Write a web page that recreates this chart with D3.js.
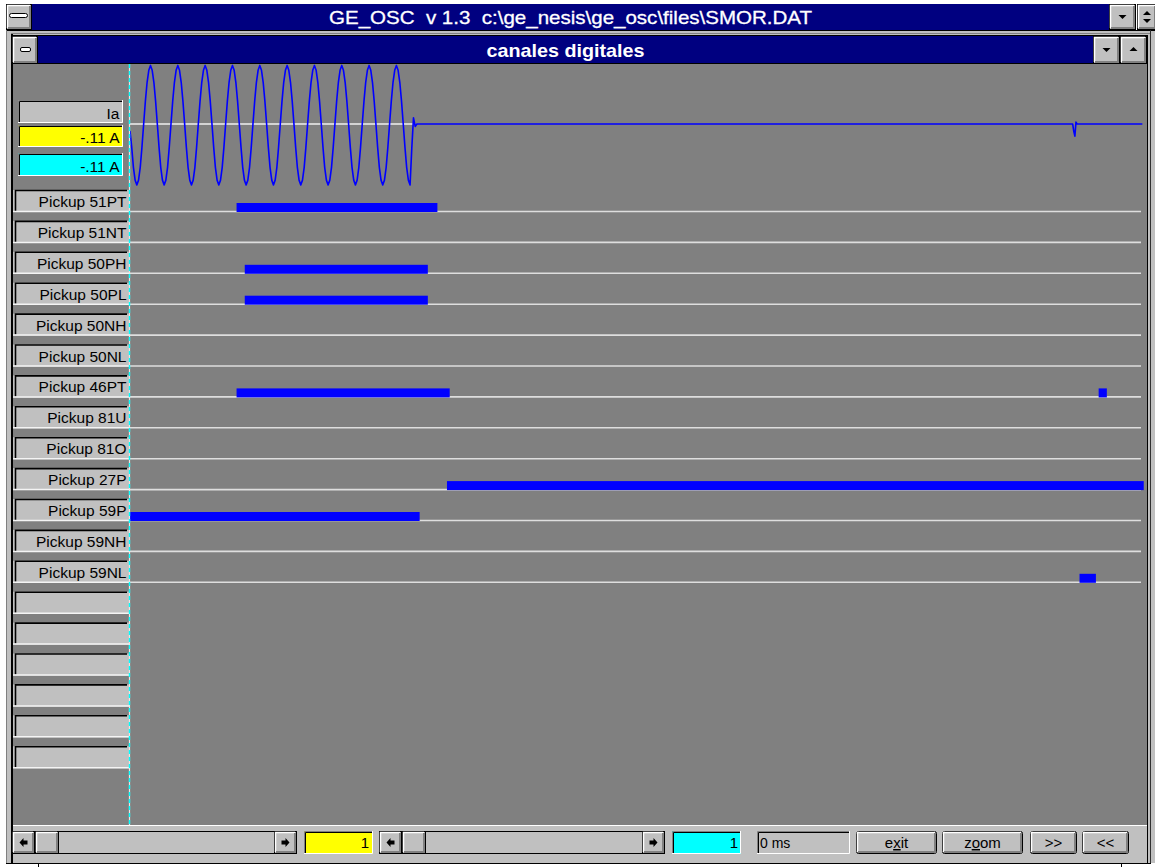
<!DOCTYPE html>
<html>
<head>
<meta charset="utf-8">
<script src="https://cdn.jsdelivr.net/npm/d3@7"></script>
<style>
  body { margin: 0; background: #ffffff; overflow: hidden; }
  svg { display: block; }
  text { font-family: Arial, "Liberation Sans", sans-serif; }
</style>
</head>
<body>
<svg id="scope" width="1155" height="867"></svg>
<script>
// ---- recorded data ----------------------------------------------------
const windowTitle = "GE_OSC  v 1.3  c:\\ge_nesis\\ge_osc\\files\\SMOR.DAT";
const viewTitle = "canales digitales";

// Ia phase current, one sample every 1.25 ms (16 samples per cycle)
const sampleStep = 1.25;
const iaSamples = [
  -0.11, -0.38, -0.71, -0.92, -1.00, -0.92, -0.71, -0.38, 0.00, 0.37, 0.68, 0.88, 0.96, 0.88, 0.68, 0.37,
   0.00, -0.38, -0.71, -0.92, -1.00, -0.92, -0.71, -0.38, 0.00, 0.37, 0.68, 0.88, 0.96, 0.88, 0.68, 0.37,
   0.00, -0.38, -0.71, -0.92, -1.00, -0.92, -0.71, -0.38, 0.00, 0.37, 0.68, 0.88, 0.96, 0.88, 0.68, 0.37,
   0.00, -0.38, -0.71, -0.92, -1.00, -0.92, -0.71, -0.38, 0.00, 0.37, 0.68, 0.88, 0.96, 0.88, 0.68, 0.37,
   0.00, -0.38, -0.71, -0.92, -1.00, -0.92, -0.71, -0.38, 0.00, 0.37, 0.68, 0.88, 0.96, 0.88, 0.68, 0.37,
   0.00, -0.38, -0.71, -0.92, -1.00, -0.92, -0.71, -0.38, 0.00, 0.37, 0.68, 0.88, 0.96, 0.88, 0.68, 0.37,
   0.00, -0.38, -0.71, -0.92, -1.00, -0.92, -0.71, -0.38, 0.00, 0.37, 0.68, 0.88, 0.96, 0.88, 0.68, 0.37,
   0.00, -0.38, -0.71, -0.92, -1.00, -0.92, -0.71, -0.38, 0.00, 0.37, 0.68, 0.88, 0.96, 0.88, 0.68, 0.37,
   0.00, -0.38, -0.71, -0.92, -1.00, -0.92, -0.71, -0.38, 0.00, 0.37, 0.68, 0.88, 0.96, 0.88, 0.68, 0.37,
   0.00, -0.38, -0.71, -0.92, -1.00, -0.92, -0.71, -0.38, 0.00, 0.37, 0.68, 0.88, 0.96, 0.88, 0.68, 0.37,
   0.00, -0.38, -0.71, -0.92, -1.00, -0.40, 0.10, -0.04, 0.00
];
// after the breaker opens: [time ms, current]
const iaTail = [[690, 0], [690.8, -0.12], [691.6, -0.2], [692.4, 0.03], [693.2, 0], [741, 0]];

const timeSpan = [0, 740];           // ms shown in the window
const cursorTime = 0;                 // both cursors at the first sample
const cursorIndex = [1, 1];           // yellow / cyan cursor sample numbers

// digital channels and the intervals (ms) during which each one is picked up
const channelNames = [
  "Pickup 51PT", "Pickup 51NT", "Pickup 50PH", "Pickup 50PL", "Pickup 50NH", "Pickup 50NL",
  "Pickup 46PT", "Pickup 81U", "Pickup 81O", "Pickup 27P", "Pickup 59P", "Pickup 59NH", "Pickup 59NL"
];
const channelOn = [
  [[78, 225]],
  [],
  [[84, 218]],
  [[84, 218]],
  [],
  [],
  [[78, 234], [709, 715]],
  [],
  [],
  [[232, 742]],
  [[0, 212]],
  [],
  [[695, 707]]
];
const emptySlots = 6;
const bottomButtons = ["exit", "zoom", ">>", "<<"];

// ---- drawing ------------------------------------------------------------
const svg = d3.select("#scope");
const C = { face: "#c0c0c0", shadow: "#808080", navy: "#000080", plot: "#808080",
            trace: "#0000ff", base: "#dedede", yellow: "#ffff00", cyan: "#00ffff" };

const fmtAmp = v => d3.format(".2f")(v).replace("\u2212", "-").replace(/^(-?)0\./, "$1.") + " A";

function raised(g, x, y, w, h, rx = 0) {
  g.append("rect").attr("x", x + 0.5).attr("y", y + 0.5).attr("width", w - 1).attr("height", h - 1)
    .attr("rx", rx).attr("fill", C.face).attr("stroke", "#000");
  g.append("path").attr("d", `M${x + 1.5},${y + h - 2}V${y + 1.5}H${x + w - 2}`)
    .attr("fill", "none").attr("stroke", "#fff").attr("stroke-width", 1.5);
  g.append("path").attr("d", `M${x + 2},${y + h - 2}H${x + w - 2}V${y + 2}`)
    .attr("fill", "none").attr("stroke", C.shadow).attr("stroke-width", 2);
}
function sunken(g, x, y, w, h, fill) {
  g.append("rect").attr("x", x).attr("y", y).attr("width", w).attr("height", h).attr("fill", fill);
  g.append("path").attr("d", `M${x + 0.5},${y + h}V${y + 0.5}H${x + w}`)
    .attr("fill", "none").attr("stroke", C.shadow).attr("stroke-width", 1);
  g.append("path").attr("d", `M${x + 1.5},${y + h - 1}V${y + 1.5}H${x + w - 1}`)
    .attr("fill", "none").attr("stroke", "#000").attr("stroke-width", 1);
  g.append("path").attr("d", `M${x},${y + h - 0.5}H${x + w - 0.5}V${y}`)
    .attr("fill", "none").attr("stroke", "#fff").attr("stroke-width", 1);
}
function arrow(g, cx, cy, dir) {
  const s = dir === "left" ? -1 : 1;
  g.append("path")
    .attr("d", `M${cx + 4 * s},${cy}L${cx},${cy - 4.5}V${cy - 2}H${cx - 4 * s}V${cy + 2}H${cx}V${cy + 4.5}Z`)
    .attr("fill", "#000");
}
function tri(g, cx, cy, up) {
  const d = up ? `M${cx - 4},${cy + 2}L${cx + 4},${cy + 2}L${cx},${cy - 2}Z`
               : `M${cx - 4},${cy - 2}L${cx + 4},${cy - 2}L${cx},${cy + 2}Z`;
  g.append("path").attr("d", d).attr("fill", "#000");
}

// window frame
const frame = svg.append("g");
frame.append("rect").attr("x", 6).attr("y", 30).attr("width", 1149).attr("height", 833).attr("fill", C.face);
frame.append("rect").attr("x", 32).attr("y", 4).attr("width", 1077).attr("height", 26).attr("fill", C.navy);
frame.append("line").attr("x1", 6).attr("x2", 1155).attr("y1", 30.5).attr("y2", 30.5).attr("stroke", "#000");
frame.append("line").attr("x1", 11).attr("x2", 1150).attr("y1", 33.5).attr("y2", 33.5).attr("stroke", C.shadow);
frame.append("line").attr("x1", 6.5).attr("x2", 6.5).attr("y1", 30).attr("y2", 863).attr("stroke", C.shadow);

// outer title buttons
raised(frame, 6, 4, 26, 26);
frame.append("rect").attr("x", 9.5).attr("y", 13.5).attr("width", 18).attr("height", 4).attr("rx", 2)
  .attr("fill", "#fff").attr("stroke", "#000");
raised(frame, 1109, 4, 27, 26); tri(frame, 1122.5, 17, false);
raised(frame, 1137, 4, 20, 26); tri(frame, 1147, 13, true); tri(frame, 1147, 21, false);

frame.append("text").attr("x", 329).attr("y", 24).attr("font-size", 19).attr("fill", "#fff")
  .attr("stroke", "#fff").attr("stroke-width", 0.3)
  .attr("textLength", 483).attr("lengthAdjust", "spacingAndGlyphs").style("white-space", "pre")
  .text(windowTitle);

// inner window
frame.append("rect").attr("x", 11).attr("y", 34).attr("width", 2).attr("height", 829).attr("fill", "#000");
frame.append("rect").attr("x", 38).attr("y", 36).attr("width", 1055).attr("height", 27).attr("fill", C.navy);
frame.append("line").attr("x1", 11).attr("x2", 1148).attr("y1", 35.5).attr("y2", 35.5).attr("stroke", "#000");
frame.append("line").attr("x1", 11).attr("x2", 1148).attr("y1", 63.5).attr("y2", 63.5).attr("stroke", "#000");
raised(frame, 12, 36, 26, 28);
frame.append("rect").attr("x", 20.5).attr("y", 47.5).attr("width", 10).attr("height", 4).attr("rx", 1.5)
  .attr("fill", "#fff").attr("stroke", "#000");
raised(frame, 1093, 36, 27, 28); tri(frame, 1106.5, 50, false);
raised(frame, 1120, 36, 27, 28); tri(frame, 1133.5, 49, true);
frame.append("text").attr("x", 565.5).attr("y", 57).attr("font-size", 19).attr("font-weight", "bold")
  .attr("fill", "#fff").attr("text-anchor", "middle").attr("textLength", 158)
  .attr("lengthAdjust", "spacingAndGlyphs").text(viewTitle);

// right frame lines
frame.append("line").attr("x1", 1147.5).attr("x2", 1147.5).attr("y1", 36).attr("y2", 863).attr("stroke", "#000");
frame.append("line").attr("x1", 1150.5).attr("x2", 1150.5).attr("y1", 30).attr("y2", 863).attr("stroke", "#303030");

// plotting area
const plot = svg.append("g");
plot.append("rect").attr("x", 13).attr("y", 64).attr("width", 1134).attr("height", 761).attr("fill", C.plot);

const x = d3.scaleLinear().domain(timeSpan).range([130, 1141]);
const rowY = d3.scaleLinear().domain([0, 18]).range([212, 768.2]);   // baseline of each row
const iaY = d3.scaleLinear().domain([-1, 1]).range([185, 63]);

// analog header boxes
const iaVal = iaSamples[Math.round(cursorTime / sampleStep)];
const hdr = [{ y: 100, h: 23, fill: C.face, label: "Ia" },
             { y: 125, h: 22, fill: C.yellow, label: fmtAmp(iaVal) },
             { y: 153, h: 23, fill: C.cyan, label: fmtAmp(iaVal) }];
hdr.forEach(b => {
  sunken(plot, 18, b.y, 105, b.h, b.fill);
  plot.append("text").attr("x", 119.5).attr("y", b.y + b.h - 4).attr("text-anchor", "end")
    .attr("font-size", 15.5).attr("fill", "#000").text(b.label);
});

// digital channel rows
const rows = d3.range(channelNames.length + emptySlots);
rows.forEach(i => {
  const b = rowY(i);
  const g = plot.append("g");
  g.append("rect").attr("x", 13).attr("y", b - 22).attr("width", 116).attr("height", 22).attr("fill", C.face);
  g.append("path").attr("d", `M15.5,${b - 1}V${b - 21.5}H127`).attr("fill", "none")
    .attr("stroke", "#000").attr("stroke-width", 1.6);
  g.append("line").attr("x1", 13).attr("x2", 129).attr("y1", b - 0.5).attr("y2", b - 0.5)
    .attr("stroke", "#f4f4f4").attr("stroke-width", 1.5);
  if (i < channelNames.length) {
    g.append("text").attr("x", 126.5).attr("y", b - 5).attr("text-anchor", "end")
      .attr("font-size", 15.5).attr("fill", "#000").text(channelNames[i]);
    g.append("line").attr("x1", x(timeSpan[0])).attr("x2", x(timeSpan[1])).attr("y1", b - 0.5).attr("y2", b - 0.5)
      .attr("stroke", C.base).attr("stroke-width", 1.6);
  }
});

// picked-up intervals
plot.append("g").selectAll("rect")
  .data(channelOn.flatMap((iv, i) => iv.map(d => ({ i, t0: d[0], t1: d[1] }))))
  .join("rect")
  .attr("x", d => x(d.t0)).attr("width", d => x(d.t1) - x(d.t0))
  .attr("y", d => rowY(d.i) - 9).attr("height", 9)
  .attr("fill", C.trace);

// Ia trace
plot.append("line").attr("x1", x(0)).attr("x2", x(208)).attr("y1", iaY(0)).attr("y2", iaY(0))
  .attr("stroke", "#f0f0f0").attr("stroke-width", 1.5);
const iaPoints = iaSamples.map((v, i) => [i * sampleStep, v]).concat(iaTail);
plot.append("path").datum(iaPoints)
  .attr("d", d3.line().x(d => x(d[0])).y(d => iaY(d[1])))
  .attr("fill", "none").attr("stroke", C.trace).attr("stroke-width", 1.6)
  .attr("stroke-linejoin", "round");

// cursor line
const cx = x(cursorTime) - 0.5;
plot.append("line").attr("x1", cx).attr("x2", cx).attr("y1", 64).attr("y2", 825)
  .attr("stroke", "#e8e8e8").attr("stroke-width", 1.2);
plot.append("line").attr("x1", cx).attr("x2", cx).attr("y1", 64).attr("y2", 825)
  .attr("stroke", C.cyan).attr("stroke-width", 1.4).attr("stroke-dasharray", "4,3");

// bottom control strip
const bar = svg.append("g");
bar.append("rect").attr("x", 13).attr("y", 825).attr("width", 1134).attr("height", 38).attr("fill", C.face);
bar.append("line").attr("x1", 13).attr("x2", 1147).attr("y1", 825.5).attr("y2", 825.5).attr("stroke", "#fff");
bar.append("line").attr("x1", 6).attr("x2", 1151).attr("y1", 863.5).attr("y2", 863.5).attr("stroke", "#000");
bar.append("line").attr("x1", 38.5).attr("x2", 38.5).attr("y1", 863).attr("y2", 867).attr("stroke", "#000");
bar.append("line").attr("x1", 1121.5).attr("x2", 1121.5).attr("y1", 863).attr("y2", 867).attr("stroke", "#000");

const ry = 831, rh = 23;
function scrollbar(x0, x1, thumbW) {
  bar.append("rect").attr("x", x0 + 0.5).attr("y", ry + 0.5).attr("width", x1 - x0 - 1).attr("height", rh - 1)
    .attr("fill", C.face).attr("stroke", "#000");
  raised(bar, x0, ry, 23, rh); arrow(bar, x0 + 11.5, ry + rh / 2, "left");
  raised(bar, x0 + 23, ry, thumbW, rh);
  raised(bar, x1 - 23, ry, 23, rh); arrow(bar, x1 - 11.5, ry + rh / 2, "right");
}
scrollbar(12, 297, 24);
sunken(bar, 304, ry, 69, rh, C.yellow);
bar.append("text").attr("x", 369).attr("y", ry + 17).attr("text-anchor", "end").attr("font-size", 15).text(cursorIndex[0]);
scrollbar(379, 665, 24);
sunken(bar, 672, ry, 69, rh, C.cyan);
bar.append("text").attr("x", 738).attr("y", ry + 17).attr("text-anchor", "end").attr("font-size", 15).text(cursorIndex[1]);
sunken(bar, 757, ry, 93, rh, C.face);
bar.append("text").attr("x", 760).attr("y", ry + 17).attr("font-size", 14).text(`${cursorTime} ms`);

const btnX = [[856, 81], [942, 81], [1030, 47], [1082, 47]];
bottomButtons.forEach((label, k) => {
  const [bx, bw] = btnX[k];
  raised(bar, bx, ry, bw, rh, 2);
  const t = bar.append("text").attr("x", bx + bw / 2).attr("y", ry + 17).attr("text-anchor", "middle")
    .attr("font-size", 15).attr("fill", "#000");
  const ul = label === "exit" ? 1 : label === "zoom" ? 1 : -1;
  if (ul >= 0) {
    t.append("tspan").text(label.slice(0, ul));
    t.append("tspan").attr("text-decoration", "underline").text(label[ul]);
    t.append("tspan").text(label.slice(ul + 1));
  } else {
    t.text(label);
  }
});
</script>
</body>
</html>
